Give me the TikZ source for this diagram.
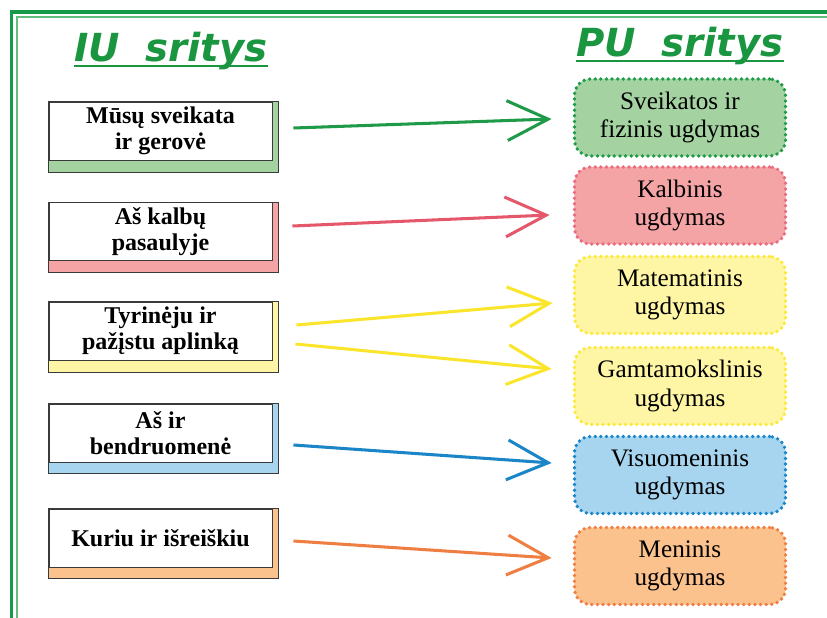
\documentclass[tikz,border=0pt]{standalone}
\usepackage{fontspec}
\setmainfont{Liberation Serif}
\newfontfamily\titlefont{DejaVu Sans}
\usepackage{xcolor}
\usetikzlibrary{arrows.meta}
\usetikzlibrary{backgrounds}

\definecolor{frameGreen}{HTML}{17994A}
\definecolor{frameLight}{HTML}{62BE7C}
\definecolor{titleGreen}{HTML}{1B9640}
\definecolor{boxEdge}{HTML}{3A3A3A}
\definecolor{greenLine}{HTML}{1E9A48}
\definecolor{greenFill}{HTML}{A4D3A1}
\definecolor{redLine}{HTML}{E5586B}
\definecolor{redDot}{HTML}{E96C7E}
\definecolor{redFill}{HTML}{F5A4A6}
\definecolor{yellowLine}{HTML}{FBE52C}
\definecolor{yellowDot}{HTML}{FCE93C}
\definecolor{yellowFill}{HTML}{FEF5A5}
\definecolor{blueLine}{HTML}{1A86C8}
\definecolor{blueFill}{HTML}{A7D5EF}
\definecolor{orangeLine}{HTML}{EE7E42}
\definecolor{orangeFill}{HTML}{FBC28E}

\begin{document}
\begin{tikzpicture}[x=0.03cm, y=-0.03cm,
    iubox/.style={draw=boxEdge, line width=0.8pt, fill=white, minimum width=6.69cm,
        minimum height=1.74cm, inner sep=0pt, align=center,
        font=\bfseries\fontsize{20.5}{22}\selectfont},
    pubox/.style={rounded corners=0.48cm, line width=3.2pt, line cap=round,
        dash pattern=on 0pt off 4.8pt,
        minimum width=6.33cm, minimum height=2.31cm, inner sep=0pt, align=center,
        font=\fontsize{21.5}{24}\selectfont},
    link/.style={line width=2.6pt, line cap=butt, -{Straight Barb[length=35pt,width=34pt]}},
    heading/.style={inner sep=0pt, anchor=base, text=titleGreen,
        font=\titlefont\bfseries\itshape\fontsize{33}{33}\selectfont}]
\useasboundingbox (0,0) rectangle (827,618);

% frame
    \draw[frameGreen, line width=2.6pt] (11.5,618) -- (11.5,12) -- (827,12);
    \draw[frameLight, line width=1.2pt] (17,618) -- (17,17) -- (827,17);

% headings
    \node[heading] (iutitle) at (171,62) {IU\hspace{0.3em} sritys};
    \draw[titleGreen, line width=1.4pt] ([shift={(0,4)}]iutitle.base west) -- ([shift={(0,4)}]iutitle.base east);

    \node[heading] (putitle) at (680,57) {PU\hspace{0.3em} sritys};
    \draw[titleGreen, line width=1.4pt] ([shift={(0,4)}]putitle.base west) -- ([shift={(0,4)}]putitle.base east);

% IU boxes
    \node[iubox] (iu1) at (160.5,131) {Mūsų sveikata\\ir gerovė};
    \node[iubox] (iu2) at (160.5,231.5) {Aš kalbų\\pasaulyje};
    \node[iubox] (iu3) at (160.5,331) {Tyrinėju ir\\pažįstu aplinką};
    \node[iubox] (iu4) at (160.5,433) {Aš ir\\bendruomenė};
    \node[iubox] (iu5) at (160.5,538) {Kuriu ir išreiškiu};

    % coloured edges behind the boxes
    \begin{scope}[on background layer]
    \filldraw[fill=greenFill, draw=boxEdge, line width=0.8pt] (iu1.north west) rectangle ([shift={(6,12)}]iu1.south east);
    \filldraw[fill=redFill, draw=boxEdge, line width=0.8pt] (iu2.north west) rectangle ([shift={(6,11)}]iu2.south east);
    \filldraw[fill=yellowFill, draw=boxEdge, line width=0.8pt] (iu3.north west) rectangle ([shift={(6,12)}]iu3.south east);
    \filldraw[fill=blueFill, draw=boxEdge, line width=0.8pt] (iu4.north west) rectangle ([shift={(6,11)}]iu4.south east);
    \filldraw[fill=orangeFill, draw=boxEdge, line width=0.8pt] (iu5.north west) rectangle ([shift={(6,11)}]iu5.south east);
    \end{scope}

% PU boxes
    \node[pubox, draw=greenLine, fill=greenFill] (pu1) at (680,117.5) {Sveikatos ir\\fizinis ugdymas};
    \node[pubox, draw=redDot, fill=redFill] (pu2) at (680,205.5) {Kalbinis\\ugdymas};
    \node[pubox, draw=yellowDot, fill=yellowFill] (pu3) at (680,295) {Matematinis\\ugdymas};
    \node[pubox, draw=yellowDot, fill=yellowFill] (pu4) at (680,386) {Gamtamokslinis\\ugdymas};
    \node[pubox, draw=blueLine, fill=blueFill] (pu5) at (680,475) {Visuomeninis\\ugdymas};
    \node[pubox, draw=orangeLine, fill=orangeFill] (pu6) at (680,566) {Meninis\\ugdymas};

% arrows
    \draw[link, greenLine] ([shift={(21,-3)}]iu1.east) -- ([shift={(-21,1.5)}]pu1.west);
    \draw[link, redLine] ([shift={(20,-5.5)}]iu2.east) -- ([shift={(-23,9.5)}]pu2.west);
    \draw[link, yellowLine] ([shift={(24,-6)}]iu3.east) -- ([shift={(-20,8)}]pu3.west);
    \draw[link, yellowLine] ([shift={(23,13)}]iu3.east) -- ([shift={(-21,-17)}]pu4.west);
    \draw[link, blueLine] ([shift={(21,12)}]iu4.east) -- ([shift={(-21,-12)}]pu5.west);
    \draw[link, orangeLine] ([shift={(21,3)}]iu5.east) -- ([shift={(-21,-8)}]pu6.west);
\end{tikzpicture}
\end{document}
